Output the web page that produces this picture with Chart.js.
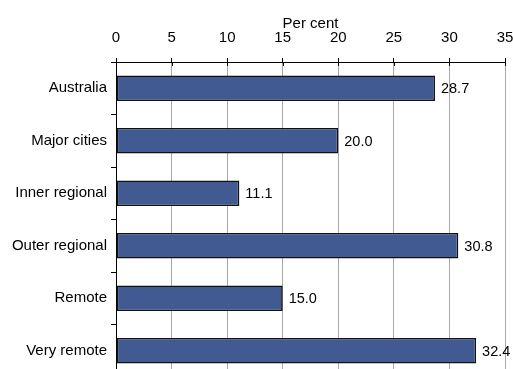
<!DOCTYPE html>
<html>
<head>
<meta charset="utf-8">
<script src="https://cdn.jsdelivr.net/npm/chart.js@4"></script>
<style>
html,body{margin:0;padding:0;background:#fff;overflow:hidden;}
#wrap{width:513px;height:390px;}
</style>
</head>
<body>
<div id="wrap"><canvas id="regionChart" width="513" height="390"></canvas></div>
<script>
const categories = ['Australia','Major cities','Inner regional','Outer regional','Remote','Very remote'];
const values = [28.7, 20.0, 11.1, 30.8, 15.0, 32.4];
const xTicks = [0,5,10,15,20,25,30,35];
const axisTitle = 'Per cent';

const font = {family:'"Liberation Sans", Arial, sans-serif', size:15};

// black tick marks crossing the top axis, plus value labels beside each bar
const extras = {
    id:'extras',
    afterDatasetsDraw(chart){
        const ctx = chart.ctx;
        const x = chart.scales.x;
        ctx.save();
        ctx.strokeStyle = '#000';
        ctx.lineWidth = 1;
        xTicks.forEach(v=>{
            const px = Math.round(x.getPixelForValue(v))+0.5;
            ctx.beginPath();
            ctx.moveTo(px, x.bottom);
            ctx.lineTo(px, x.bottom+4);
            ctx.stroke();
        });
        ctx.fillStyle = '#000';
        ctx.font = '14.5px "Liberation Sans", Arial, sans-serif';
        ctx.textBaseline = 'middle';
        ctx.textAlign = 'left';
        chart.getDatasetMeta(0).data.forEach((bar,i)=>{
            ctx.fillText(values[i].toFixed(1), bar.x+6, bar.y+1);
        });
        ctx.restore();
    }
};

new Chart(document.getElementById('regionChart').getContext('2d'),{
    type:'bar',
    data:{
        labels: categories,
        datasets:[{
            data: values,
            backgroundColor:'#415a92',
            borderColor:'#111',
            borderWidth:1.6,
            borderSkipped:false,
            barPercentage:0.49,
            categoryPercentage:1
        }]
    },
    options:{
        indexAxis:'y',
        responsive:false,
        animation:false,
        layout:{padding:{top:0,right:0,bottom:2,left:0}},
        plugins:{legend:{display:false},tooltip:{enabled:false}},
        scales:{
            x:{
                position:'top',
                min:0,
                max:35,
                afterBuildTicks(scale){ scale.ticks = xTicks.map(v=>({value:v})); },
                afterFit(scale){
                    scale.height = 62;
                    scale.paddingLeft = 0;
                    scale.paddingRight = 8;
                },
                ticks:{font:font,color:'#000',padding:11,maxRotation:0},
                title:{display:true,text:axisTitle,font:font,color:'#000',padding:{top:15,bottom:0}},
                grid:{color:'#a8a8a8',tickColor:'#000',tickLength:4},
                border:{color:'#000',width:1}
            },
            y:{
                afterFit(scale){ scale.width = 116; },
                ticks:{font:font,color:'#000',padding:4},
                grid:{drawOnChartArea:false,tickColor:'#000',tickLength:5,offset:true},
                border:{color:'#000',width:1}
            }
        }
    },
    plugins:[extras]
});
</script>
</body>
</html>
